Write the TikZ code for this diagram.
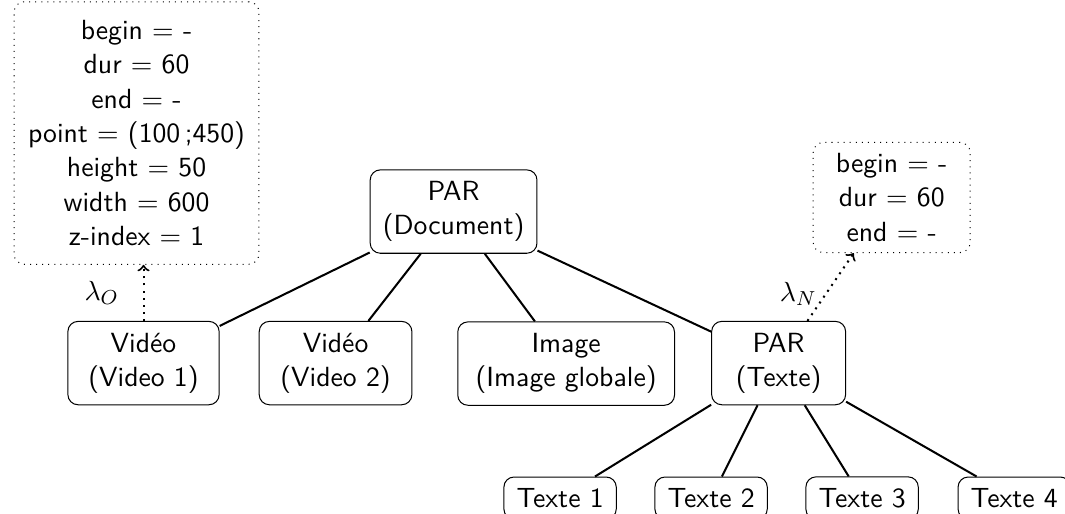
\documentclass[tikz,border=0pt]{standalone}
\begin{document}
\begin{tikzpicture}[
  every node/.style={font=\fontsize{10.95}{13.6}\selectfont\sffamily},
  elem/.style={draw, rounded corners, align=center, inner xsep=5pt, inner ysep=4.5pt},
  attr/.style={draw, dotted, rounded corners, align=center, inner xsep=5.5pt, inner ysep=4.3pt},
  lien/.style={thick},
  temps/.style={thick, dotted, ->}
]
 \useasboundingbox (0,0) rectangle (14.79,-7.125);
 % attributs temporels et spatiaux
 \node[attr, inner ysep=7.2pt] (attrvid) at (1.896,-1.847) {begin $=$ -\\ dur $=$ 60\\ end $=$ -\\ point $=$ (100\,;450)\\ height $=$ 50\\ width $=$ 600\\ z-index $=$ 1};
 \node[attr, minimum width=2.18cm] (attrtxt) at (12.383,-2.743) {begin $=$ -\\ dur $=$ 60\\ end $=$ -};
 % racine
 \node[elem] (doc) at (6.299,-2.938) {PAR\\ (Document)};
 % premier niveau
 \node[elem, minimum width=2.10cm] (vid1) at (1.993,-5.042) {Vidéo\\ (Video 1)};
 \node[elem, minimum width=2.12cm] (vid2) at (4.660,-5.042) {Vidéo\\ (Video 2)};
 \node[elem, minimum width=3.01cm] (img) at (7.862,-5.049) {Image\\ (Image globale)};
 \node[elem, minimum width=1.86cm] (partxt) at (10.813,-5.042) {PAR\\ (Texte)};
 % second niveau
 \node[elem] (txt1) at (7.778,-6.917) {Texte 1};
 \node[elem] (txt2) at (9.875,-6.917) {Texte 2};
 \node[elem] (txt3) at (11.972,-6.917) {Texte 3};
 \node[elem] (txt4) at (14.085,-6.917) {Texte 4};
 \foreach \n in {vid1,vid2,img,partxt}
  \draw[lien] (doc) -- (\n);
 \foreach \n in {txt1,txt2,txt3,txt4}
  \draw[lien] (partxt) -- (\n);
 \draw[temps] (vid1.north) -- (vid1.north |- attrvid.south) node[midway, left=6pt] {$\lambda_O$};
 \draw[temps] (partxt) -- (attrtxt) node[pos=0.4, left] {$\lambda_N$};
\end{tikzpicture}
\end{document}
